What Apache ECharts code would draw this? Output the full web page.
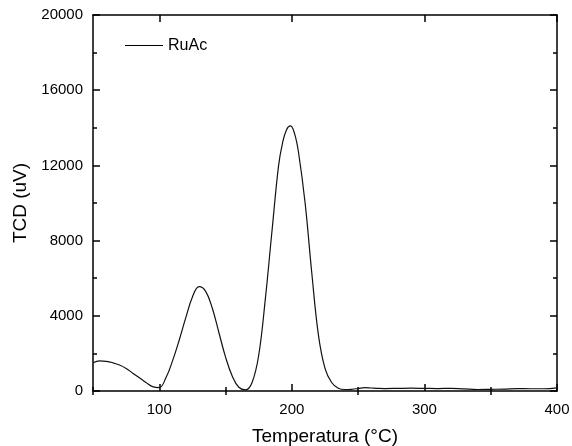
<!DOCTYPE html>
<html><head><meta charset="utf-8">
<script src="https://cdn.jsdelivr.net/npm/echarts@6/dist/echarts.min.js"></script>
<style>html,body{margin:0;padding:0;background:#fff}#c{width:572px;height:446px}</style>
</head><body><div id="c"></div>
<script>
const temperature = [50,55,60,65,70,75,80,85,90,95,100,105,110,115,120,125,130,135,140,145,150,155,160,165,170,175,180,185,190,193,196,199,202,205,210,215,220,225,230,235,240,245,250,255,260,265,270,280,290,300,310,320,330,340,350,360,370,380,390,400];
const tcd = [1500,1600,1580,1500,1380,1200,950,700,450,230,180,700,1600,2700,3900,5000,5550,5300,4400,3100,1800,800,200,60,450,1900,4900,8500,12000,13200,13900,14100,13700,12700,10000,6300,3000,1200,450,150,80,90,130,180,160,140,130,140,150,140,130,140,110,80,90,100,130,120,120,170];
const xMajorTicks = [100,200,300,400];
const xMinorTicks = [50,150,250,350];
const seriesName = 'RuAc';

const font = 'Liberation Sans, Arial, sans-serif';
const data = temperature.map((t,i)=>[t,tcd[i]]);
const chart = echarts.init(document.getElementById('c'));
const lineStyleAxis = {color:'#000', width:1.5};
chart.setOption({
  animation:false,
  backgroundColor:'#fff',
  grid:{left:93,right:15,top:15,bottom:55,outerBoundsMode:'none',containLabel:false},
  legend:{left:120,top:32.5,icon:'rect',itemWidth:38,itemHeight:1.2,itemGap:6,
    itemStyle:{color:'#000'},
    textStyle:{fontFamily:font,fontSize:16,color:'#000'},data:[seriesName]},
  xAxis:[
    {type:'value',min:50,max:400,position:'bottom',
     name:'Temperatura (°C)',nameLocation:'middle',nameGap:36,
     nameTextStyle:{fontFamily:font,fontSize:19,color:'#000'},
     axisLine:{show:true,onZero:false,lineStyle:lineStyleAxis},
     axisTick:{show:true,inside:true,length:7,customValues:xMajorTicks,lineStyle:lineStyleAxis},
     axisLabel:{customValues:xMajorTicks,fontFamily:font,fontSize:15,color:'#000',margin:11},
     splitLine:{show:false}},
    {type:'value',min:50,max:400,position:'bottom',
     axisLine:{show:false},
     axisTick:{show:true,inside:true,length:4,customValues:xMinorTicks,lineStyle:lineStyleAxis},
     axisLabel:{show:false},splitLine:{show:false}},
    {type:'value',min:50,max:400,position:'top',
     axisLine:{show:true,onZero:false,lineStyle:lineStyleAxis},
     axisTick:{show:true,inside:true,length:7,customValues:xMajorTicks,lineStyle:lineStyleAxis},
     axisLabel:{show:false},splitLine:{show:false}},
    {type:'value',min:50,max:400,position:'top',
     axisLine:{show:false},
     axisTick:{show:true,inside:true,length:4,customValues:xMinorTicks,lineStyle:lineStyleAxis},
     axisLabel:{show:false},splitLine:{show:false}}
  ],
  yAxis:[
    {type:'value',min:0,max:20000,interval:4000,position:'left',
     name:'TCD (uV)',nameLocation:'middle',nameGap:61,
     nameTextStyle:{fontFamily:font,fontSize:19,color:'#000'},
     axisLine:{show:true,onZero:false,lineStyle:lineStyleAxis},
     axisTick:{show:true,inside:true,length:7,lineStyle:lineStyleAxis},
     minorTick:{show:true,splitNumber:2,length:4,lineStyle:lineStyleAxis},
     axisLabel:{fontFamily:font,fontSize:15,color:'#000',margin:10,formatter:v=>String(v)},
     splitLine:{show:false},minorSplitLine:{show:false}},
    {type:'value',min:0,max:20000,interval:4000,position:'right',
     axisLine:{show:true,onZero:false,lineStyle:lineStyleAxis},
     axisTick:{show:true,inside:true,length:7,lineStyle:lineStyleAxis},
     minorTick:{show:true,splitNumber:2,length:4,lineStyle:lineStyleAxis},
     axisLabel:{show:false},splitLine:{show:false},minorSplitLine:{show:false}}
  ],
  series:[{name:seriesName,type:'line',data:data,xAxisIndex:0,yAxisIndex:0,
    smooth:0.4,showSymbol:false,symbol:'none',
    lineStyle:{color:'#111',width:1.2},itemStyle:{color:'#111'}}]
});
</script></body></html>
